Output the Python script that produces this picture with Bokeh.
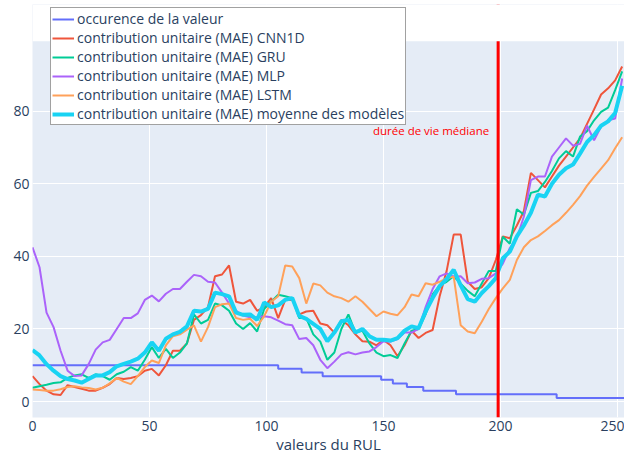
from bokeh.plotting import figure
from bokeh.models import Legend, LegendItem, Span, Label, Range1d, FixedTicker, BoxAnnotation
from bokeh.embed import file_html
from bokeh.resources import INLINE

# ---------------- data ----------------
rul = list(range(0, 253, 3))

cnn1d = [
    7.0, 4.8, 3.0, 2.0, 1.8, 4.5, 4.0, 3.5, 3.0, 3.0,
    3.8, 4.8, 6.5, 6.2, 6.5, 7.0, 8.5, 9.0, 7.2, 10.0,
    14.0, 14.0, 16.0, 22.5, 23.8, 26.0, 34.5, 35.0, 37.5, 27.5,
    27.0, 28.0, 25.0, 26.0, 28.5, 23.0, 28.0, 28.0, 24.0, 24.8,
    25.0, 21.5, 21.0, 19.0, 22.5, 21.0, 18.5, 16.6, 16.5, 15.5,
    17.0, 15.5, 12.5, 15.5, 19.5, 17.5, 18.9, 19.7, 29.0, 36.0,
    46.0, 46.0, 33.0, 31.0, 31.5, 34.0, 39.0, 45.5, 45.0, 48.5,
    52.5, 63.0, 61.0, 59.0, 62.0, 65.0, 67.5, 70.0, 72.5, 76.5,
    80.5, 84.6, 86.3, 88.5, 92.3]

gru = [
    3.8, 4.2, 4.6, 5.1, 5.3, 6.5, 7.2, 7.5, 6.5, 7.5,
    7.0, 6.0, 7.5, 8.2, 9.5, 8.5, 11.5, 15.0, 12.0, 14.5,
    12.0, 13.5, 16.0, 24.0, 21.5, 22.5, 27.0, 26.5, 25.0, 21.5,
    20.0, 21.6, 19.3, 25.5, 27.5, 29.4, 29.0, 28.5, 23.0, 23.0,
    18.5, 16.5, 11.5, 13.5, 20.0, 24.0, 19.0, 19.5, 16.0, 13.5,
    12.5, 12.8, 12.0, 16.0, 19.5, 20.0, 24.0, 29.5, 32.0, 33.0,
    34.5, 32.5, 30.5, 29.0, 32.5, 36.0, 36.0, 45.4, 43.5, 53.0,
    51.5, 57.5, 58.0, 60.5, 63.5, 67.0, 69.0, 67.5, 73.0, 74.5,
    77.5, 79.8, 81.0, 85.8, 91.0]

mlp = [
    42.5, 37.0, 24.5, 20.5, 14.0, 8.5, 7.0, 7.2, 10.3, 14.3,
    16.3, 17.0, 20.0, 23.0, 23.0, 24.3, 28.0, 29.2, 27.6, 29.7,
    31.0, 31.0, 33.0, 34.9, 34.5, 33.0, 32.8, 30.0, 27.0, 25.0,
    23.7, 23.2, 23.3, 23.5, 23.2, 22.3, 21.3, 21.0, 17.2, 17.5,
    15.5, 11.5, 9.2, 11.0, 13.0, 13.6, 13.0, 13.5, 13.8, 15.0,
    16.6, 16.5, 17.2, 19.0, 19.0, 20.0, 26.0, 31.0, 34.5, 35.3,
    34.4, 34.5, 32.6, 32.8, 33.8, 34.0, 35.3, 38.0, 42.3, 45.0,
    51.0, 61.0, 62.0, 62.0, 67.5, 70.0, 72.5, 70.5, 71.0, 76.0,
    72.0, 75.8, 77.5, 78.0, 89.0]

lstm = [
    3.3, 3.2, 3.0, 3.0, 3.4, 4.0, 4.2, 3.9, 3.7, 3.3,
    3.8, 5.0, 6.5, 5.5, 4.8, 7.0, 9.5, 11.3, 10.6, 15.5,
    18.0, 18.5, 19.8, 21.0, 16.5, 20.5, 26.0, 26.8, 27.0, 23.0,
    22.5, 22.8, 20.8, 23.5, 27.5, 29.0, 37.5, 37.2, 34.0, 27.0,
    32.5, 32.0, 30.0, 29.0, 28.5, 27.5, 29.0, 27.5, 25.5, 23.5,
    24.8, 24.2, 23.8, 26.0, 29.5, 29.0, 32.6, 32.2, 33.0, 34.0,
    34.4, 21.0, 19.3, 18.8, 22.0, 25.5, 28.5, 31.2, 33.5, 39.0,
    42.5, 44.5, 45.5, 47.0, 48.6, 50.0, 52.0, 54.2, 56.6, 59.5,
    61.9, 64.2, 66.5, 69.8, 72.8]

moyenne = [
    14.2, 12.7, 10.3, 8.5, 7.0, 6.2, 5.8, 5.2, 6.2, 7.2,
    7.2, 8.1, 9.7, 10.4, 11.0, 11.8, 13.5, 16.3, 14.0, 17.3,
    18.5, 19.2, 20.7, 25.0, 24.8, 25.5, 30.0, 29.6, 29.0, 24.5,
    23.9, 24.0, 22.5, 27.3, 26.0, 26.5, 28.0, 28.5, 23.6, 22.8,
    21.4, 20.0, 16.6, 19.0, 22.1, 22.5, 19.0, 20.0, 18.0, 17.0,
    17.0, 16.8, 17.5, 19.5, 20.7, 20.2, 24.8, 28.5, 31.8, 33.8,
    36.3, 32.0, 28.2, 27.5, 29.9, 31.8, 34.0, 39.5, 41.3, 45.5,
    48.5, 52.0, 57.0, 56.5, 60.0, 62.5, 64.3, 65.3, 68.3, 71.5,
    73.4, 76.0, 77.2, 79.5, 87.0]

occ_x = [0, 105, 115, 124, 149, 154, 160, 167, 181, 224, 253]
occ_y = [10, 9, 8, 7, 6, 5, 4, 3, 2, 1, 1]

median_rul = 199
median_label = "durée de vie médiane"
x_title = "valeurs du RUL"
x_ticks = [0, 50, 100, 150, 200, 250]
y_ticks = [0, 20, 40, 60, 80]

labels = [
    "occurence de la valeur",
    "contribution unitaire (MAE) CNN1D",
    "contribution unitaire (MAE) GRU",
    "contribution unitaire (MAE) MLP",
    "contribution unitaire (MAE) LSTM",
    "contribution unitaire (MAE) moyenne des modèles",
]

# ---------------- layout / style ----------------
FONT = "Open Sans"
TXT = "#2a3f5f"
PLOT_TOP = 99.25      # top of the coloured plotting area
CANVAS_TOP = 109.4    # the frame reaches higher so the legend is not clipped

p = figure(width=624, height=456, output_backend="svg", toolbar_location=None,
           title=None,
           x_range=Range1d(0, 253), y_range=Range1d(-4.4, CANVAS_TOP),
           min_border_left=32, min_border_right=0,
           min_border_top=4, min_border_bottom=38)
p.background_fill_color = "#E5ECF6"
p.border_fill_color = "white"
p.outline_line_color = None

for g in (p.xgrid, p.ygrid):
    g.grid_line_color = "white"
    g.grid_line_width = 1

p.xaxis.ticker = FixedTicker(ticks=x_ticks)
p.yaxis.ticker = FixedTicker(ticks=y_ticks)
for ax in p.axis:
    ax.axis_line_color = None
    ax.major_tick_line_color = None
    ax.minor_tick_line_color = None
    ax.major_tick_out = 0
    ax.major_tick_in = 0
    ax.minor_tick_out = 0
    ax.major_label_text_font = FONT
    ax.major_label_text_font_size = "14px"
    ax.major_label_text_color = TXT
p.xaxis.major_label_standoff = 3
p.yaxis.major_label_standoff = 3
p.xaxis.axis_label = x_title
p.xaxis.axis_label_standoff = 0
p.xaxis.axis_label_text_font = FONT
p.xaxis.axis_label_text_font_size = "15px"
p.xaxis.axis_label_text_font_style = "normal"
p.xaxis.axis_label_text_color = TXT

r_occ = p.step(occ_x, occ_y, mode="after", line_color="#636EFA", line_width=2)
r_cnn = p.line(rul, cnn1d, line_color="#EF553B", line_width=2)
r_gru = p.line(rul, gru, line_color="#00CC96", line_width=2)
r_mlp = p.line(rul, mlp, line_color="#AB63FA", line_width=2)
r_lstm = p.line(rul, lstm, line_color="#FFA15A", line_width=2)
r_moy = p.line(rul, moyenne, line_color="#19D3F3", line_width=4)

p.add_layout(Span(location=median_rul, dimension="height",
                  line_color="red", line_width=3))

# white band above the plotting area (page background)
p.add_layout(BoxAnnotation(bottom=PLOT_TOP, fill_color="white", fill_alpha=1.0,
                           line_color=None))

p.add_layout(Label(x=median_rul, y=74.8, x_offset=-9, text=median_label,
                   text_align="right", text_baseline="middle",
                   text_color="red", text_font=FONT, text_font_size="11.5px"))

legend = Legend(
    items=[LegendItem(label=l, renderers=[r]) for l, r in
           zip(labels, [r_occ, r_cnn, r_gru, r_mlp, r_lstm, r_moy])],
    location=(18, 292),
    background_fill_color="white", background_fill_alpha=1.0,
    border_line_color="#444444", border_line_width=1.5,
    padding=1, spacing=0, margin=0,
    label_height=18, glyph_height=18, glyph_width=22, label_standoff=3,
    label_text_font=FONT, label_text_font_size="14px", label_text_color=TXT,
)
p.add_layout(legend)

open("out.html", "w").write(file_html(p, INLINE))
